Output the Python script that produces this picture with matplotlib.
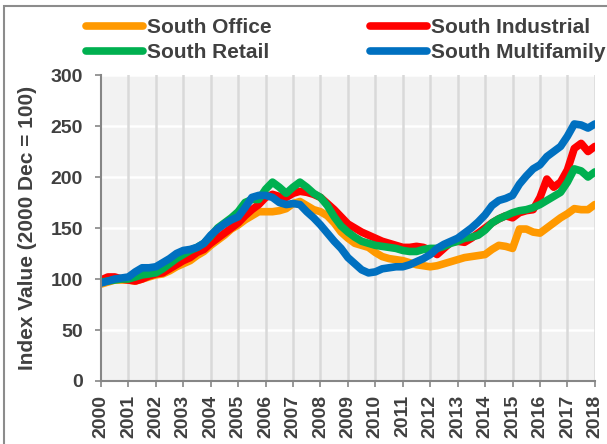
import numpy as np
import matplotlib.pyplot as plt
from matplotlib.patches import Rectangle

plt.rcParams['font.family'] = ['Liberation Sans', 'DejaVu Sans']
plt.rcParams['font.weight'] = 'bold'

# quarterly index values, 2000Q1 .. 2018Q1
years = np.arange(2000, 2018.01, 0.25)

office = [95, 97, 99, 99,
          99, 98, 100, 102,
          104, 105, 108, 112,
          115, 118, 123, 127,
          133, 138, 143, 149,
          153, 158, 162, 166,
          166, 166, 167, 169,
          174, 176, 172, 168,
          166, 162, 155, 146,
          140, 135, 133, 131,
          126, 122, 120, 119,
          118, 116, 114, 113,
          112, 113, 115, 117,
          119, 121, 122, 123,
          124, 129, 133, 132,
          130, 149, 149, 146,
          145, 150, 155, 160,
          164, 169, 168, 168,
          173]

industrial = [99, 102, 102, 100,
              99, 98, 100, 103,
              105, 106, 110, 114,
              118, 121, 126, 129,
              135, 140, 145, 150,
              155, 162, 168, 173,
              180, 183, 181, 180,
              184, 186, 185, 183,
              180, 174, 168, 161,
              154, 150, 146, 143,
              140, 137, 135, 133,
              131, 131, 132, 131,
              128, 124, 130, 136,
              137, 136, 140, 145,
              150, 155, 159, 162,
              160, 165, 167, 168,
              180, 198, 190, 195,
              207, 228, 233, 225,
              230]

retail = [97, 98, 99, 100,
          100, 102, 104, 105,
          106, 110, 115, 120,
          124, 128, 131, 135,
          142, 150, 155, 160,
          166, 175, 178, 178,
          188, 195, 190, 184,
          190, 195, 190, 184,
          180, 172, 161, 152,
          146, 141, 137, 135,
          133, 132, 131, 130,
          128, 127, 127, 129,
          130, 130, 132, 135,
          137, 140, 141, 143,
          148, 155, 159, 162,
          165, 167, 168, 170,
          173, 177, 181, 185,
          195, 208, 206, 200,
          205]

multifamily = [96, 98, 100, 101,
               102, 107, 111, 111,
               112, 116, 120, 125,
               128, 129, 131, 135,
               143, 149, 154, 158,
               161, 170, 180, 182,
               182, 180, 175, 173,
               174, 173, 166, 160,
               153, 145, 137, 130,
               121, 115, 109, 106,
               107, 110, 111, 112,
               112, 114, 117, 120,
               124, 130, 134, 137,
               140, 145, 150, 156,
               163, 172, 177, 179,
               182, 193, 201, 208,
               212, 220, 225, 230,
               240, 252, 251, 248,
               252]

year_ticks = list(range(2000, 2019))
txt = '#404040'

fig = plt.figure(figsize=(6.07, 4.44), dpi=100)
ax = fig.add_axes([0.1664, 0.1419, 0.8136, 0.6891])
ax.set_facecolor('#f2f2f2')

lw = 5.5
style = dict(lw=lw, solid_capstyle='round', solid_joinstyle='round')
ax.plot(years, office, color='#ff9900', label='South Office', **style)
ax.plot(years, industrial, color='#ff0000', label='South Industrial', **style)
ax.plot(years, retail, color='#00b050', label='South Retail', **style)
ax.plot(years, multifamily, color='#0070c0', label='South Multifamily', **style)

ax.set_xlim(2000, 2018)
ax.set_ylim(0, 300)
ax.set_xticks(year_ticks)
ax.set_xticklabels([str(y) for y in year_ticks], rotation=90)
ax.set_yticks(range(0, 301, 50))

for y in range(50, 301, 50):
    ax.axhline(y, color='white', lw=1.8, zorder=0.5)
for x in year_ticks[1:]:
    ax.axvline(x, color='#d9d9d9', lw=1.8, zorder=0.6)

for s in ['top', 'right']:
    ax.spines[s].set_visible(False)
for s in ['left', 'bottom']:
    ax.spines[s].set_color('#868686')
    ax.spines[s].set_linewidth(1.5)

ax.tick_params(axis='both', colors='#868686', labelcolor=txt, labelsize=14,
               length=4, width=1.2, direction='out')
ax.tick_params(axis='y', pad=9)
ax.tick_params(axis='x', pad=6)

ax.set_ylabel('Index Value (2000 Dec = 100)', fontsize=15, fontweight='bold',
              color=txt, labelpad=10)

h, l = ax.get_legend_handles_labels()
order = [0, 2, 1, 3]
fig.legend([h[i] for i in order], [l[i] for i in order], ncol=2,
           loc='upper left', bbox_to_anchor=(86 / 607, 1 - 18 / 444), frameon=False,
           borderpad=0, borderaxespad=0,
           fontsize=15, handlelength=2.75, handletextpad=0.2,
           columnspacing=4.7, labelspacing=0.3, labelcolor=txt)

fig.patches.append(Rectangle((0.006, -0.1), 1.2, 1.1 - 6 / 444, transform=fig.transFigure,
                             fill=False, edgecolor='#8c8c8c', lw=1.5))

fig.savefig('out.png', dpi=100)
